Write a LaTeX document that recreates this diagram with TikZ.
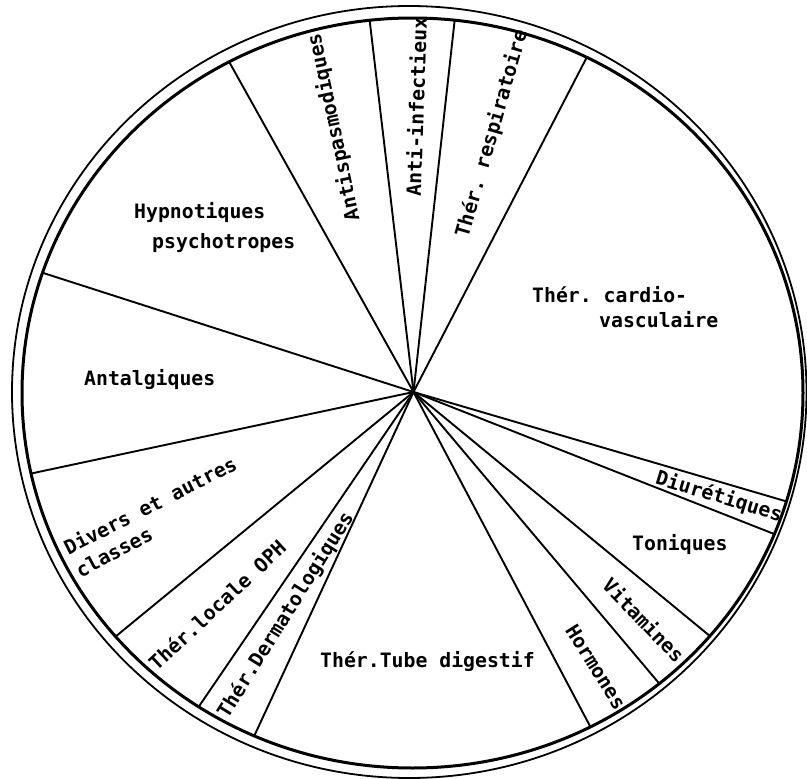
\documentclass[tikz,border=0pt]{standalone}
\usepackage{fontspec}
\setmonofont{DejaVu Sans Mono}
\begin{document}
\begin{tikzpicture}[x=1pt,y=-1pt,
  spoke/.style={line width=1.9pt, line cap=round},
  rim/.style={line width=3pt},
  outerrim/.style={line width=1.8pt},
  lbl/.style={font=\ttfamily\bfseries\fontsize{19.8}{24}\selectfont, inner sep=0pt},
]
\useasboundingbox (0,0) rectangle (807,779);
\fill[white] (0,0) rectangle (807,779);
\draw[outerrim] (409.25,392) ellipse [x radius=397.25pt, y radius=386pt];
\draw[rim] (412.5,393) ellipse [x radius=390.5pt, y radius=375pt];
\coordinate (c) at (413.5,392);
\foreach \t [count=\i] in {118.0,96.3,83.8,63.5,-16.8,-22.1,-40.4,-50.8,-62.9,-113.9,-123.2,-139.5,-167.6,161.3} {
  \coordinate (e\i) at ({412.5+390.5*cos(\t)},{393-375*sin(\t)});
  \draw[spoke] (c) -- (e\i);
}
\node[lbl, anchor=base west] (hyp1) at (134,218) {Hypnotiques};
\node[lbl, anchor=base west] (hyp2) at (152,248) {psychotropes};
\node[lbl, rotate=102] (antisp) at (334,127) {Antispasmodiques};
\node[lbl, rotate=88] (antiinf) at (416,107) {Anti-infectieux};
\node[lbl, rotate=74] (resp) at (492,134) {Thér. respiratoire};
\node[lbl, anchor=base west] (card1) at (532,302) {Thér. cardio-};
\node[lbl, anchor=base west] (card2) at (599,327) {vasculaire};
\node[lbl, rotate=-17] (diur) at (719,497) {Diurétiques};
\node[lbl, anchor=base west] (ton) at (632,550) {Toniques};
\node[lbl, rotate=-46] (vit) at (644,620) {Vitamines};
\node[lbl, rotate=-58] (horm) at (596,667) {Hormones};
\node[lbl, anchor=base west] (tube) at (320,667) {Thér.Tube digestif};
\node[lbl, rotate=58] (derm) at (286,615) {Thér.Dermatologiques};
\node[lbl, rotate=43] (oph) at (217,605) {Thér.locale OPH};
\node[lbl, rotate=27] (div1) at (150,505) {Divers et autres};
\node[lbl, rotate=28] (div2) at (114,552) {classes};
\node[lbl, anchor=base west] (antalg) at (84,385) {Antalgiques};
\end{tikzpicture}
\end{document}
